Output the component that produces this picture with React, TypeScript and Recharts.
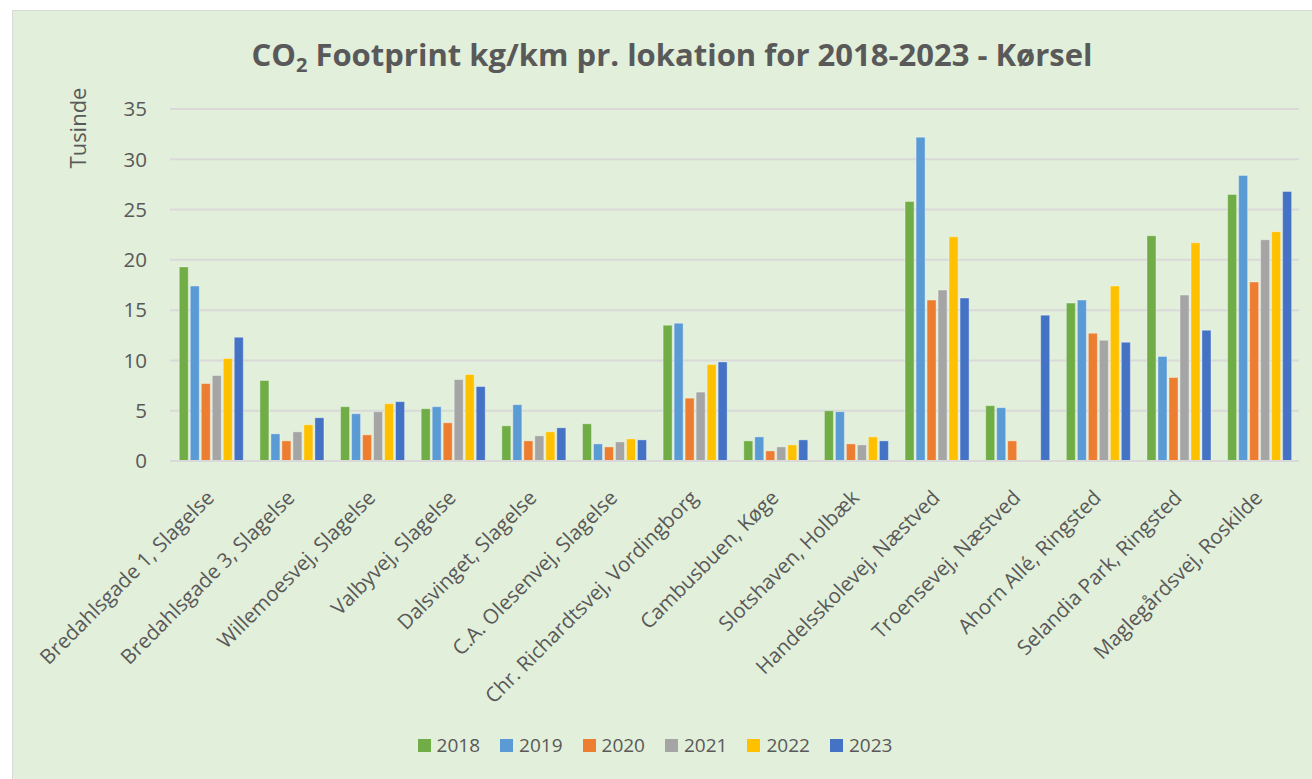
import React from 'react';
import { BarChart, Bar, XAxis, YAxis, CartesianGrid, Legend } from 'recharts';

const locations = [
  'Bredahlsgade 1, Slagelse',
  'Bredahlsgade 3, Slagelse',
  'Willemoesvej, Slagelse',
  'Valbyvej, Slagelse',
  'Dalsvinget, Slagelse',
  'C.A. Olesenvej, Slagelse',
  'Chr. Richardtsvej, Vordingborg',
  'Cambusbuen, Køge',
  'Slotshaven, Holbæk',
  'Handelsskolevej, Næstved',
  'Troensevej, Næstved',
  'Ahorn Allé, Ringsted',
  'Selandia Park, Ringsted',
  'Maglegårdsvej, Roskilde',
];

const values2018 = [19.3, 8.0, 5.4, 5.2, 3.5, 3.7, 13.5, 2.0, 5.0, 25.8, 5.5, 15.7, 22.4, 26.5];
const values2019 = [17.4, 2.7, 4.7, 5.4, 5.6, 1.7, 13.7, 2.4, 4.9, 32.2, 5.3, 16.0, 10.4, 28.4];
const values2020 = [7.7, 2.0, 2.6, 3.8, 2.0, 1.4, 6.25, 1.0, 1.7, 16.0, 2.0, 12.7, 8.3, 17.8];
const values2021 = [8.5, 2.9, 4.9, 8.1, 2.5, 1.9, 6.85, 1.4, 1.6, 17.0, null, 12.0, 16.5, 22.0];
const values2022 = [10.2, 3.6, 5.7, 8.6, 2.9, 2.2, 9.6, 1.6, 2.4, 22.3, null, 17.4, 21.7, 22.8];
const values2023 = [12.3, 4.3, 5.9, 7.4, 3.3, 2.1, 9.85, 2.1, 2.0, 16.2, 14.5, 11.8, 13.0, 26.8];

const yTicks = [0, 5, 10, 15, 20, 25, 30, 35];

const series = [
  { key: '2018', values: values2018, color: '#70AD47' },
  { key: '2019', values: values2019, color: '#5B9BD5' },
  { key: '2020', values: values2020, color: '#ED7D31' },
  { key: '2021', values: values2021, color: '#A5A5A5' },
  { key: '2022', values: values2022, color: '#FFC000' },
  { key: '2023', values: values2023, color: '#4472C4' },
];

const data = locations.map((name, i) => {
  const row: Record<string, string | number | null> = { name };
  series.forEach((s) => {
    row[s.key] = s.values[i];
  });
  return row;
});

const FONT = '"Open Sans", "Liberation Sans", sans-serif';
const TEXT = '#595959';

const XTick = (props: any) => {
  const { x, y, payload } = props;
  return (
    <g transform={`translate(${x + 5},${y + 30})`}>
      <text
        textAnchor="end"
        transform="rotate(-45)"
        fill={TEXT}
        fontSize={20.5}
        fontFamily={FONT}
      >
        {payload.value}
      </text>
    </g>
  );
};

const LegendContent = () => (
  <div style={{ display: 'flex', justifyContent: 'center', fontFamily: FONT, fontSize: 19, color: TEXT }}>
    {series.map((s, i) => (
      <span
        key={s.key}
        style={{ display: 'flex', alignItems: 'center', marginRight: i < series.length - 1 ? 20 : 0 }}
      >
        <span style={{ width: 13, height: 13, background: s.color, display: 'inline-block', marginRight: 6 }} />
        {s.key}
      </span>
    ))}
  </div>
);

export default function App() {
  return (
    <div style={{ position: 'absolute', left: 0, top: 0, width: 1312, height: 779, background: '#fff', overflow: 'hidden' }}>
      <div
        style={{
          position: 'absolute',
          left: 12,
          top: 10,
          width: 1310,
          height: 780,
          background: '#E2EFDA',
          border: '1.5px solid #D9D9D9',
        }}
      />
      <div
        style={{
          position: 'absolute',
          left: 0,
          top: 33,
          width: 1344,
          textAlign: 'center',
          fontFamily: FONT,
          fontWeight: 700,
          fontSize: 31,
          color: TEXT,
          whiteSpace: 'nowrap',
        }}
      >
        CO<sub style={{ fontSize: 20, verticalAlign: -6 }}>2</sub> Footprint kg/km pr. lokation for 2018-2023 - Kørsel
      </div>
      <div
        style={{
          position: 'absolute',
          left: 77,
          top: 128,
          transform: 'translate(-50%, -50%) rotate(-90deg)',
          fontFamily: FONT,
          fontSize: 22,
          color: TEXT,
        }}
      >
        Tusinde
      </div>
      <div style={{ position: 'absolute', left: 0, top: 0 }}>
        <BarChart
          width={1312}
          height={779}
          data={data}
          margin={{ top: 109, right: 13, left: 0, bottom: 60 }}
          barCategoryGap="11.5%"
          barGap={2}
        >
          <CartesianGrid vertical={false} stroke="#D9D9D9" strokeWidth={2} />
          <XAxis
            dataKey="name"
            interval={0}
            height={232}
            tick={<XTick />}
            tickLine={false}
            axisLine={{ stroke: '#D9D9D9', strokeWidth: 2 }}
          />
          <YAxis
            width={170}
            domain={[0, 35]}
            ticks={yTicks}
            tickLine={false}
            axisLine={false}
            tickSize={0}
            tickMargin={23}
            tick={{ fill: TEXT, fontSize: 20.5, fontFamily: FONT }}
          />
          <Legend
            verticalAlign="bottom"
            wrapperStyle={{ position: 'absolute', top: 732, left: 0, width: 1310 }}
            content={<LegendContent />}
          />
          {series.map((s) => (
            <Bar
              key={s.key}
              dataKey={s.key}
              fill={s.color}
              stroke="#ffffff"
              strokeOpacity={0.35}
              strokeWidth={1}
              isAnimationActive={false}
            />
          ))}
        </BarChart>
      </div>
    </div>
  );
}
